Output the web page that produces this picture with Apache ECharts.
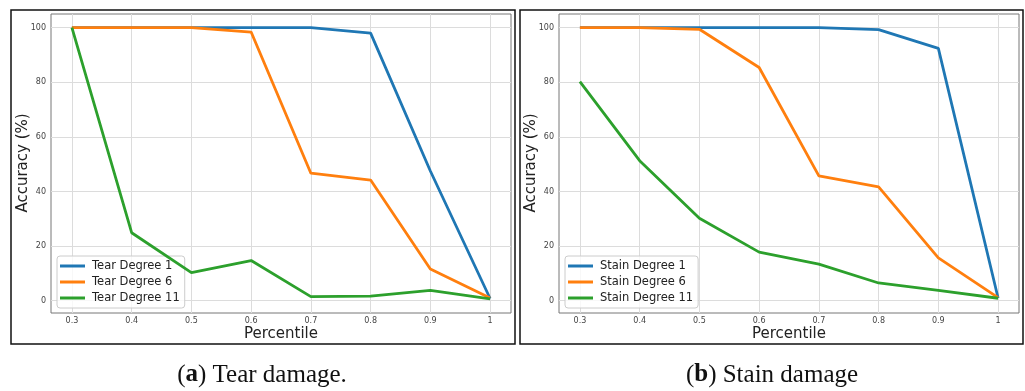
<!DOCTYPE html>
<html>
<head>
<meta charset="utf-8">
<script src="https://cdn.jsdelivr.net/npm/echarts@6/dist/echarts.min.js"></script>
<style>
html,body{margin:0;padding:0;background:#fff;}
#chart{width:1025px;height:391px;}
</style>
</head>
<body>
<div id="chart"></div>
<script>
var percentiles = [0.3, 0.4, 0.5, 0.6, 0.7, 0.8, 0.9, 1.0];
var tearDeg1  = [100, 100, 100, 100, 100, 98.0, 47.5, 0.8];
var tearDeg6  = [100, 100, 100, 98.4, 46.7, 44.2, 11.6, 1.0];
var tearDeg11 = [100, 24.9, 10.3, 14.7, 1.5, 1.7, 3.8, 0.7];
var stainDeg1  = [100, 100, 100, 100, 100, 99.3, 92.4, 1.0];
var stainDeg6  = [100, 100, 99.4, 85.4, 45.7, 41.7, 15.7, 1.1];
var stainDeg11 = [80.2, 51.3, 30.2, 17.8, 13.4, 6.5, 3.8, 0.9];
var xTicks = [0.3, 0.4, 0.5, 0.6, 0.7, 0.8, 0.9, 1];
var yTicks = [0, 20, 40, 60, 80, 100];
var tearNames = ['Tear Degree 1', 'Tear Degree 6', 'Tear Degree 11'];
var stainNames = ['Stain Degree 1', 'Stain Degree 6', 'Stain Degree 11'];
var xTitle = 'Percentile';
var yTitle = 'Accuracy (%)';
var colors = ['#1f77b4', '#ff7f0e', '#2ca02c'];

function pairs(ys){ return percentiles.map(function(x,i){ return [x, ys[i]]; }); }

var font = 'DejaVu Sans';
function xAxis(gi){
  return {
    type:'value', gridIndex:gi, min:0.265, max:1.035,
    axisLine:{show:false},
    axisTick:{show:false, customValues:xTicks},
    axisLabel:{customValues:xTicks, fontFamily:font, fontSize:8, color:'#444', margin:4,
      formatter:function(v){ return Math.abs(v-1)<1e-9 ? '1' : v.toFixed(1); }},
    splitLine:{show:true, lineStyle:{color:'#dcdcdc', width:1}}
  };
}
function yAxis(gi){
  return {
    type:'value', gridIndex:gi, min:-4.5, max:105,
    axisLine:{show:false},
    axisTick:{show:false, customValues:yTicks},
    axisLabel:{customValues:yTicks, fontFamily:font, fontSize:8, color:'#444', margin:5},
    splitLine:{show:true, lineStyle:{color:'#dcdcdc', width:1}}
  };
}
function legend(left, names){
  return {
    orient:'vertical', left:left, top:256, data:names,
    itemWidth:25, itemHeight:3, itemGap:4, icon:'rect',
    backgroundColor:'rgba(255,255,255,0.8)', borderColor:'#cccccc', borderWidth:1, borderRadius:3,
    padding:[4,5,4,3],
    textStyle:{fontFamily:font, fontSize:11.5, color:'#222', padding:[0,0,0,2]}
  };
}
function titleText(x, y, txt, rot){
  return {type:'text', x:x, y:y, rotation:rot||0, silent:true,
    style:{text:txt, fontFamily:font, fontSize:15, fill:'#222', align:'center', verticalAlign:'middle'}};
}
var series = [];
[tearDeg1, tearDeg6, tearDeg11].forEach(function(d,i){
  series.push({type:'line', name:tearNames[i], xAxisIndex:0, yAxisIndex:0, data:pairs(d),
    showSymbol:false, symbol:'none', color:colors[i], lineStyle:{width:2.8, color:colors[i]}, z:2+i, animation:false});
});
[stainDeg1, stainDeg6, stainDeg11].forEach(function(d,i){
  series.push({type:'line', name:stainNames[i], xAxisIndex:1, yAxisIndex:1, data:pairs(d),
    showSymbol:false, symbol:'none', color:colors[i], lineStyle:{width:2.8, color:colors[i]}, z:2+i, animation:false});
});

var chart = echarts.init(document.getElementById('chart'), null, {renderer:'canvas'});
chart.setOption({
  animation:false,
  backgroundColor:'#fff',
  grid:[
    {left:51, top:14, width:460, height:299, show:true, borderColor:'#777', borderWidth:1, backgroundColor:'transparent'},
    {left:559, top:14, width:460, height:299, show:true, borderColor:'#777', borderWidth:1, backgroundColor:'transparent'}
  ],
  xAxis:[xAxis(0), xAxis(1)],
  yAxis:[yAxis(0), yAxis(1)],
  legend:[legend(57, tearNames), legend(565, stainNames)],
  series:series,
  graphic:[
    {type:'rect', shape:{x:11, y:10, width:504, height:334}, style:{fill:'none', stroke:'#111', lineWidth:1.5}, silent:true},
    {type:'rect', shape:{x:520, y:10, width:503, height:334}, style:{fill:'none', stroke:'#111', lineWidth:1.5}, silent:true},
    titleText(281, 334, xTitle),
    titleText(789, 334, xTitle),
    titleText(23, 163, yTitle, Math.PI/2),
    titleText(531, 163, yTitle, Math.PI/2),
    {type:'text', x:262, y:375, style:{text:'({b|a}) Tear damage.', fontFamily:'Liberation Serif', fontSize:25, fill:'#111',
      align:'center', verticalAlign:'middle',
      rich:{b:{fontFamily:'Liberation Serif', fontSize:25, fontWeight:'bold', fill:'#111'}}}},
    {type:'text', x:772, y:375, style:{text:'({b|b}) Stain damage', fontFamily:'Liberation Serif', fontSize:25, fill:'#111',
      align:'center', verticalAlign:'middle',
      rich:{b:{fontFamily:'Liberation Serif', fontSize:25, fontWeight:'bold', fill:'#111'}}}}
  ]
});
</script>
</body>
</html>
